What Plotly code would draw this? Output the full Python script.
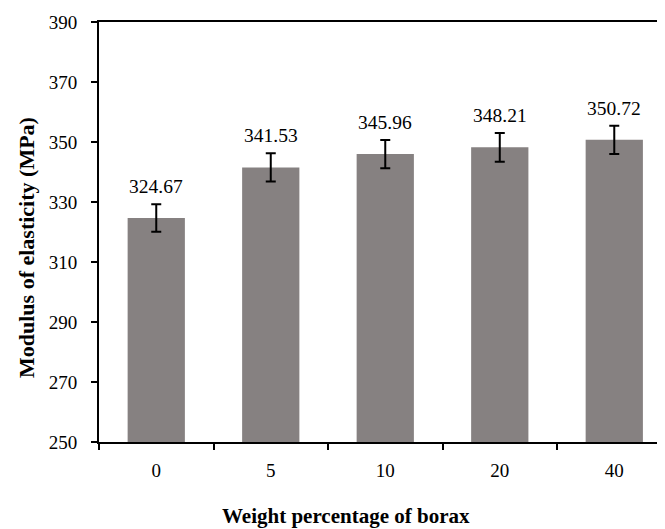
import plotly.graph_objects as go

categories = ["0", "5", "10", "20", "40"]
modulus = [324.67, 341.53, 345.96, 348.21, 350.72]
errors = [4.6, 4.7, 4.7, 4.8, 4.7]
y_ticks = [250, 270, 290, 310, 330, 350, 370, 390]

font_family = "Liberation Serif, Times New Roman, serif"

fig = go.Figure()
fig.add_trace(go.Bar(
    x=categories,
    y=modulus,
    width=0.5,
    marker=dict(color="#868181", line=dict(width=0)),
    error_y=dict(type="data", array=errors, visible=True,
                 color="black", thickness=2, width=5),
))

for i, (v, e) in enumerate(zip(modulus, errors)):
    fig.add_annotation(x=i, y=v + e, xref="x", yref="y", text=f"{v:.2f}",
                       showarrow=False, yanchor="bottom", yshift=5,
                       font=dict(family=font_family, size=19.5, color="black"))

fig.add_annotation(text="<b>Weight percentage of borax</b>", xref="paper", yref="paper",
                   x=(346 - 99) / 566, y=-(516 - 442) / 420, xanchor="center", yanchor="middle",
                   showarrow=False, font=dict(family=font_family, size=21, color="black"))
fig.add_annotation(text="<b>Modulus of elasticity (MPa)</b>", xref="paper", yref="paper",
                   x=-(99 - 26) / 566, y=(442 - 248) / 420, xanchor="center", yanchor="middle",
                   textangle=-90,
                   showarrow=False, font=dict(family=font_family, size=22, color="black"))

fig.update_layout(
    width=657, height=521,
    margin=dict(l=91, r=0, t=14, b=87, autoexpand=False),
    paper_bgcolor="white", plot_bgcolor="white",
    showlegend=False,
    font=dict(family=font_family, size=19, color="black"),
    xaxis=dict(
        type="category",
        range=[-0.5, 4.443],
        automargin=False,
        showline=True, linecolor="black", linewidth=2, mirror=True,
        ticks="outside", ticklen=6, tickwidth=2, tickcolor="black",
        tickson="boundaries",
        ticklabelstandoff=10,
        showgrid=False,
    ),
    yaxis=dict(
        range=[250, 390],
        tickvals=y_ticks,
        automargin=False,
        showline=True, linecolor="black", linewidth=2,
        ticks="outside", ticklen=6, tickwidth=2, tickcolor="black",
        ticklabelstandoff=10,
        showgrid=False, zeroline=False,
    ),
)

fig.write_html("out.html")
